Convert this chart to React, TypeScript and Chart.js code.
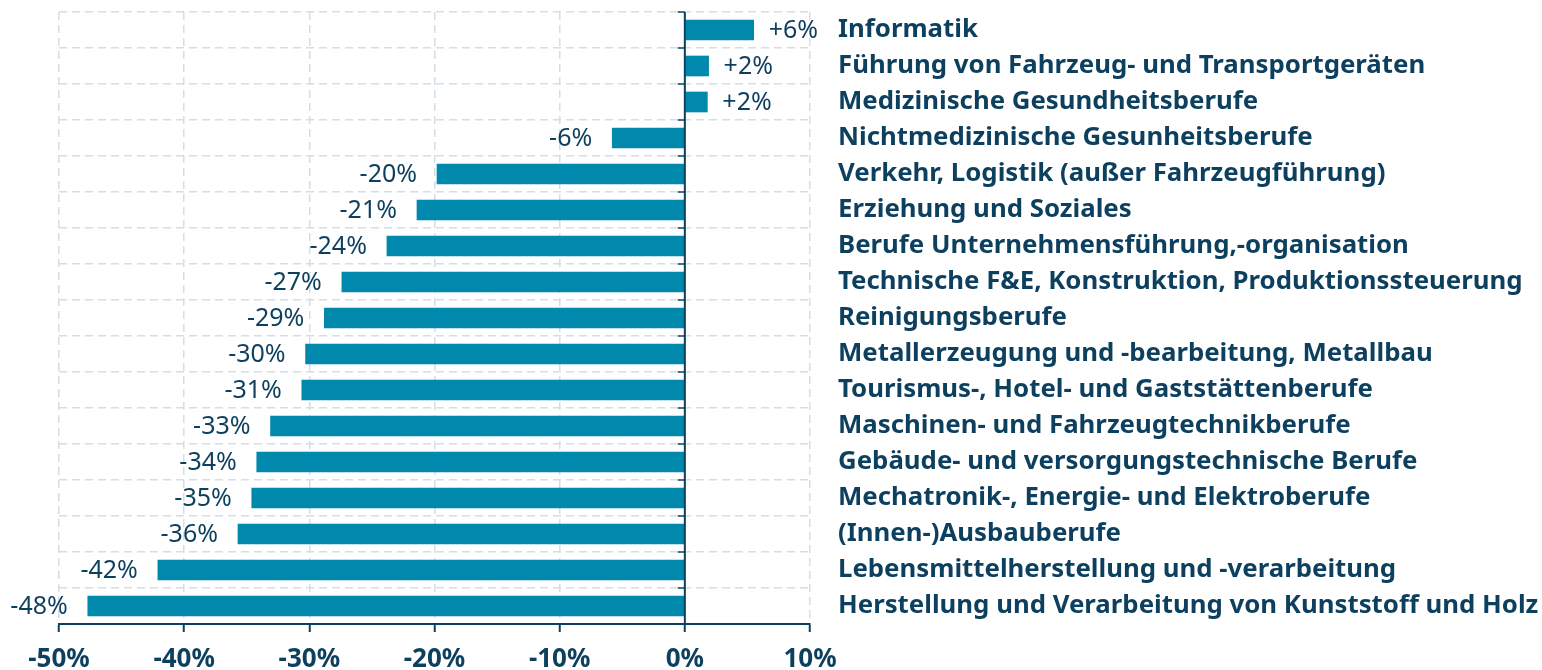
import React, { useEffect, useRef } from "react";
import { Chart, registerables } from "chart.js";

Chart.register(...registerables);

const categories = [
  "Informatik",
  "Führung von Fahrzeug- und Transportgeräten",
  "Medizinische Gesundheitsberufe",
  "Nichtmedizinische Gesunheitsberufe",
  "Verkehr, Logistik (außer Fahrzeugführung)",
  "Erziehung und Soziales",
  "Berufe Unternehmensführung,-organisation",
  "Technische F&E, Konstruktion, Produktionssteuerung",
  "Reinigungsberufe",
  "Metallerzeugung und -bearbeitung, Metallbau",
  "Tourismus-, Hotel- und Gaststättenberufe",
  "Maschinen- und Fahrzeugtechnikberufe",
  "Gebäude- und versorgungstechnische Berufe",
  "Mechatronik-, Energie- und Elektroberufe",
  "(Innen-)Ausbauberufe",
  "Lebensmittelherstellung und -verarbeitung",
  "Herstellung und Verarbeitung von Kunststoff und Holz",
];

const changeValues = [
  5.5, 1.9, 1.8, -5.8, -19.8, -21.4, -23.8, -27.4, -28.8, -30.3, -30.6, -33.1,
  -34.2, -34.6, -35.7, -42.1, -47.7,
];

const valueLabels = [
  "+6%", "+2%", "+2%", "-6%", "-20%", "-21%", "-24%", "-27%", "-29%", "-30%",
  "-31%", "-33%", "-34%", "-35%", "-36%", "-42%", "-48%",
];

const xTicks = [-50, -40, -30, -20, -10, 0, 10];

const DARK = "#0d3f5f";
const BAR = "#0088ad";
const GRID = "#d3dee7";
const FONT = "'Noto Sans', sans-serif";

const overlayPlugin = {
  id: "overlay",
  afterDatasetsDraw(chart: any) {
    const { ctx, chartArea, scales } = chart;
    const xs = scales.x;
    const ys = scales.y;
    const x0 = xs.getPixelForValue(0);
    ctx.save();
    ctx.strokeStyle = DARK;
    ctx.lineWidth = 2;
    ctx.beginPath();
    ctx.moveTo(x0, chartArea.top);
    ctx.lineTo(x0, chartArea.bottom);
    ctx.stroke();
    const n = categories.length;
    const step = (chartArea.bottom - chartArea.top) / n;
    ctx.lineWidth = 1.5;
    for (let i = 0; i < n; i++) {
      const y = ys.getPixelForValue(i) - step / 2;
      ctx.beginPath();
      ctx.moveTo(x0 - 7, y);
      ctx.lineTo(x0, y);
      ctx.stroke();
    }
    ctx.fillStyle = DARK;
    ctx.font = `400 25px ${FONT}`;
    ctx.textBaseline = "middle";
    const meta = chart.getDatasetMeta(0);
    meta.data.forEach((bar: any, i: number) => {
      const v = changeValues[i];
      const xe = xs.getPixelForValue(v);
      if (v >= 0) {
        ctx.textAlign = "left";
        ctx.fillText(valueLabels[i], xe + 15, bar.y + 1);
      } else {
        ctx.textAlign = "right";
        ctx.fillText(valueLabels[i], xe - 20, bar.y + 1);
      }
    });
    ctx.restore();
  },
};

export default function App() {
  const ref = useRef<HTMLCanvasElement | null>(null);
  useEffect(() => {
    document.body.style.margin = "0";
    const c = ref.current;
    if (!c) return;
    const chart = new Chart(c, {
      type: "bar",
      data: {
        labels: categories,
        datasets: [
          {
            data: changeValues,
            backgroundColor: BAR,
            barThickness: 20,
            borderWidth: 0,
          },
        ],
      },
      options: {
        indexAxis: "y",
        animation: false,
        responsive: false,
        maintainAspectRatio: false,
        layout: { padding: { top: 12, left: 59, right: 0, bottom: 0 } },
        plugins: {
          legend: { display: false },
          tooltip: { enabled: false },
        },
        scales: {
          x: {
            min: -50,
            max: 10,
            afterBuildTicks: (scale: any) => {
              scale.ticks = xTicks.map((v) => ({ value: v }));
            },
            afterFit: (scale: any) => {
              scale.height = 46;
              scale.paddingLeft = 0;
              scale.paddingRight = 0;
            },
            grid: {
              color: GRID,
              lineWidth: 1.5,
              tickColor: DARK,
              tickLength: 8,
              tickWidth: 2,
              tickBorderDash: [],
              borderDash: [8, 5],
            } as any,
            border: { display: true, color: DARK, width: 2, dash: [8, 5] },
            ticks: {
              color: DARK,
              padding: 12,
              maxRotation: 0,
              font: { family: FONT, size: 26, weight: "bold" },
              callback: (v: any) => `${v}%`,
            },
          },
          y: {
            position: "right",
            afterFit: (scale: any) => {
              scale.width = 732;
              scale.paddingTop = 0;
              scale.paddingBottom = 0;
            },
            grid: {
              color: GRID,
              lineWidth: 1.5,
              drawTicks: false,
              offset: true,
              borderDash: [8, 5],
            } as any,
            border: { display: false, dash: [8, 5] },
            ticks: {
              color: DARK,
              padding: 28,
              crossAlign: "near",
              autoSkip: false,
              font: { family: FONT, size: 25.8, weight: "bold" },
            },
          },
        },
      },
      plugins: [overlayPlugin],
    });
    return () => chart.destroy();
  }, []);
  return (
    <div style={{ position: "fixed", left: 0, top: 0, width: 1542, height: 670 }}>
      <canvas ref={ref} width={1542} height={670} style={{ width: 1542, height: 670 }} />
    </div>
  );
}
